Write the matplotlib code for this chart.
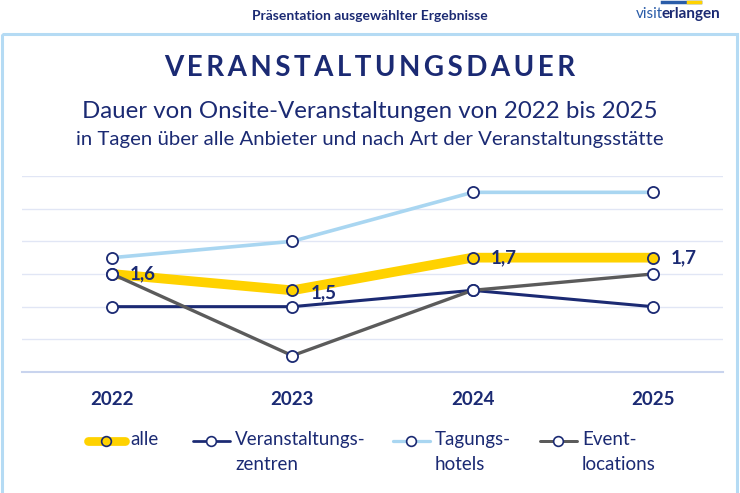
import numpy as np
import matplotlib.pyplot as plt
from matplotlib.patches import Rectangle
from matplotlib.lines import Line2D

years = ['2022', '2023', '2024', '2025']
alle = [1.6, 1.5, 1.7, 1.7]
zentren = [1.4, 1.4, 1.5, 1.4]
hotels = [1.7, 1.8, 2.1, 2.1]
events = [1.6, 1.1, 1.5, 1.6]
labels_alle = ['1,6', '1,5', '1,7', '1,7']
names = ['alle', 'Veranstaltungs-\nzentren', 'Tagungs-\nhotels', 'Event-\nlocations']

navy = '#1b2a73'
yellow = '#ffd200'
lblue = '#a9d6f1'
grey = '#5b5b5b'
font = 'Lato'

plt.rcParams['font.family'] = [font, 'DejaVu Sans']

fig = plt.figure(figsize=(7.4, 4.93), dpi=100)

# overlay in pixel coordinates for frame, headers and legend
ov = fig.add_axes([0, 0, 1, 1])
ov.set_xlim(0, 740)
ov.set_ylim(493, 0)
ov.axis('off')
ov.add_patch(Rectangle((2, 34), 735, 470, fill=False, ec='#b5dbf4', lw=2.2))
ov.text(370, 16, 'Präsentation ausgewählter Ergebnisse', ha='center', va='center',
        fontsize=10, fontweight='bold', color=navy)
ov.text(636, 14, 'visit', ha='left', va='center', fontsize=11, color='#2a5ca8')
ov.text(661, 14, 'erlangen', ha='left', va='center', fontsize=11, fontweight='bold', color=navy)
ov.plot([662, 700], [2, 2], color='#2a5ca8', lw=2.5)
ov.plot([688, 700], [2, 2], color=yellow, lw=2.5)

ov.text(370, 68, '\u2009'.join('VERANSTALTUNGSDAUER'), ha='center', va='center',
        fontsize=20, fontweight='bold', color=navy)
ov.text(370, 112, 'Dauer von Onsite-Veranstaltungen von 2022 bis 2025', ha='center',
        va='center', fontsize=17.3, color=navy)
ov.text(370, 139, 'in Tagen über alle Anbieter und nach Art der Veranstaltungsstätte',
        ha='center', va='center', fontsize=14.7, color=navy)

ax = fig.add_axes([22 / 740, (493 - 372) / 493, 701 / 740, (372 - 176) / 493])
x = np.arange(len(years))
series = [(alle, yellow, 7, yellow), (zentren, navy, 2.2, 'white'),
          (hotels, lblue, 2.6, 'white'), (events, grey, 2.4, 'white')]
for vals, c, lw, fc in series:
    ax.plot(x, vals, color=c, lw=lw, marker='o', ms=8, mfc=fc, mec=navy, mew=1.3,
            solid_capstyle='butt', zorder=3)

offs = [(13, 0), (13, -2), (13, 0), (13, 0)]
for i, (lab, o) in enumerate(zip(labels_alle, offs)):
    ax.annotate(lab, (x[i], alle[i]), xytext=o, textcoords='offset points',
                ha='left', va='center', fontsize=13.5, fontweight='bold', color=navy, zorder=5)

ax.set_xlim(-0.5, 3.39)
ax.set_ylim(1.0, 2.2)
ax.set_yticks(np.arange(1.0, 2.21, 0.2))
ax.grid(axis='y', color='#e1e6f5', lw=1)
ax.set_axisbelow(True)
for s in ['top', 'right', 'left']:
    ax.spines[s].set_visible(False)
ax.spines['bottom'].set_color('#c9d4ee')
ax.spines['bottom'].set_linewidth(1.5)
ax.set_xticks(x)
ax.set_xticklabels(years, fontsize=13.5, fontweight='bold', color=navy)
ax.tick_params(axis='x', length=0, pad=14)
ax.tick_params(axis='y', length=0, labelleft=False)
ax.patch.set_alpha(0)

# legend
leg_x = [85, 190, 390, 537]
for (vals, c, lw, fc), name, lx in zip(series, names, leg_x):
    ov.add_line(Line2D([lx + 3, lx + 40], [441, 441], color=c, lw=lw * 0.9,
                       solid_capstyle='round'))
    ov.plot(lx + 21, 441, marker='o', ms=7, mfc=fc, mec=navy, mew=1.2)
    ov.text(lx + 45, 431, name, ha='left', va='top', fontsize=13.5, color=navy,
            linespacing=1.55)

fig.savefig('out.png', dpi=100)
